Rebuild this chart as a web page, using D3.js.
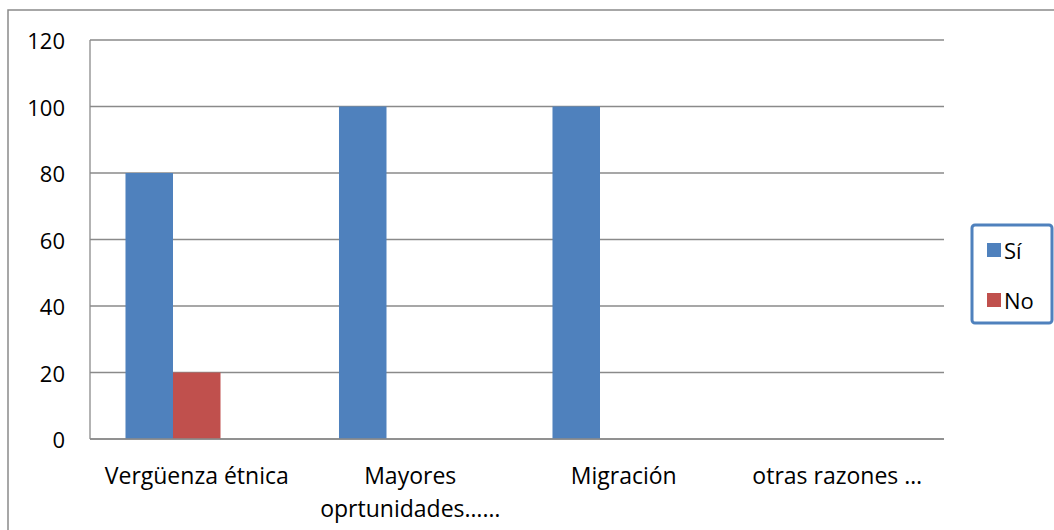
<!DOCTYPE html>
<html>
<head>
<meta charset="utf-8">
<script src="https://cdn.jsdelivr.net/npm/d3@7"></script>
<style>
  html, body { margin: 0; padding: 0; background: #fff; }
  svg { display: block; }
  text { font-family: "Open Sans", Lato, sans-serif; fill: #000; }
</style>
</head>
<body>
<svg id="chart" width="1054" height="530"></svg>
<script>
// Reasons and answers (percent)
const categories = ["Vergüenza étnica", "Mayores oprtunidades……", "Migración", "otras razones …"];
const categoryLines = [["Vergüenza étnica"], ["Mayores", "oprtunidades……"], ["Migración"], ["otras razones …"]];
const seriesNames = ["Sí", "No"];
const siValues = [80, 100, 100, 0];
const noValues = [20, 0, 0, 0];
const yTicks = [0, 20, 40, 60, 80, 100, 120];
const colors = { "Sí": "#4F81BD", "No": "#C0504D" };

const svg = d3.select("#chart");
const W = 1054, H = 530;
const plot = { left: 90, top: 40, right: 944, bottom: 439 };
const FS_TICK = 22;
const FS_CAT = 23;

// outer chart frame (runs off the right and bottom edges)
svg.append("rect")
  .attr("x", 8).attr("y", 10)
  .attr("width", W).attr("height", H)
  .attr("fill", "none").attr("stroke", "#8a8a8a").attr("stroke-width", 1.5);

const x0 = d3.scaleBand().domain(categories).range([plot.left, plot.right]).padding(0);
// three slots per group, the last one stays empty
const x1 = d3.scaleBand().domain([...seriesNames, "_"]).range([0, x0.bandwidth()])
  .paddingInner(0).paddingOuter(0.747);
const y = d3.scaleLinear().domain([0, 120]).range([plot.bottom, plot.top]);

// horizontal gridlines
svg.append("g").selectAll("line").data(yTicks).join("line")
  .attr("x1", plot.left).attr("x2", plot.right)
  .attr("y1", d => y(d)).attr("y2", d => y(d))
  .attr("stroke", "#8a8a8a").attr("stroke-width", 1.3);

// y axis line
svg.append("line")
  .attr("x1", plot.left).attr("x2", plot.left)
  .attr("y1", plot.top).attr("y2", plot.bottom)
  .attr("stroke", "#8a8a8a").attr("stroke-width", 1.3);

// y tick labels
svg.append("g").selectAll("text").data(yTicks).join("text")
  .attr("x", 65).attr("y", d => y(d))
  .attr("text-anchor", "end").attr("dominant-baseline", "central")
  .attr("font-size", FS_TICK)
  .text(d => d);

// bars
const rows = categories.map((c, i) => ({ cat: c, vals: [
  { s: "Sí", v: siValues[i] }, { s: "No", v: noValues[i] }
]}));
const groups = svg.append("g").selectAll("g").data(rows).join("g")
  .attr("transform", d => `translate(${x0(d.cat)},0)`);
groups.selectAll("rect").data(d => d.vals.filter(e => e.v > 0)).join("rect")
  .attr("x", d => x1(d.s)).attr("width", x1.bandwidth())
  .attr("y", d => y(d.v)).attr("height", d => y(0) - y(d.v))
  .attr("fill", d => colors[d.s]);

// redraw baseline on top
svg.append("line")
  .attr("x1", plot.left).attr("x2", plot.right)
  .attr("y1", y(0)).attr("y2", y(0))
  .attr("stroke", "#8a8a8a").attr("stroke-width", 1.3);

// category labels
const xl = svg.append("g").selectAll("text").data(categories).join("text")
  .attr("text-anchor", "middle").attr("font-size", FS_CAT)
  .attr("x", d => x0(d) + x0.bandwidth() / 2)
  .attr("y", 475).attr("dominant-baseline", "central");
xl.each(function(d, i) {
  d3.select(this).selectAll("tspan").data(categoryLines[i]).join("tspan")
    .attr("x", x0(d) + x0.bandwidth() / 2)
    .attr("dy", (t, j) => j === 0 ? 0 : 33)
    .text(t => t);
});

// legend
const lg = svg.append("g");
lg.append("rect")
  .attr("x", 972).attr("y", 225).attr("width", 80).attr("height", 98)
  .attr("rx", 3).attr("fill", "#fff")
  .attr("stroke", "#4F81BD").attr("stroke-width", 3);
seriesNames.forEach((s, i) => {
  const cy = 250 + i * 50;
  lg.append("rect").attr("x", 987).attr("y", cy - 7).attr("width", 14).attr("height", 14)
    .attr("fill", colors[s]);
  lg.append("text").attr("x", 1004).attr("y", cy)
    .attr("dominant-baseline", "central").attr("font-size", FS_TICK).text(s);
});
</script>
</body>
</html>
